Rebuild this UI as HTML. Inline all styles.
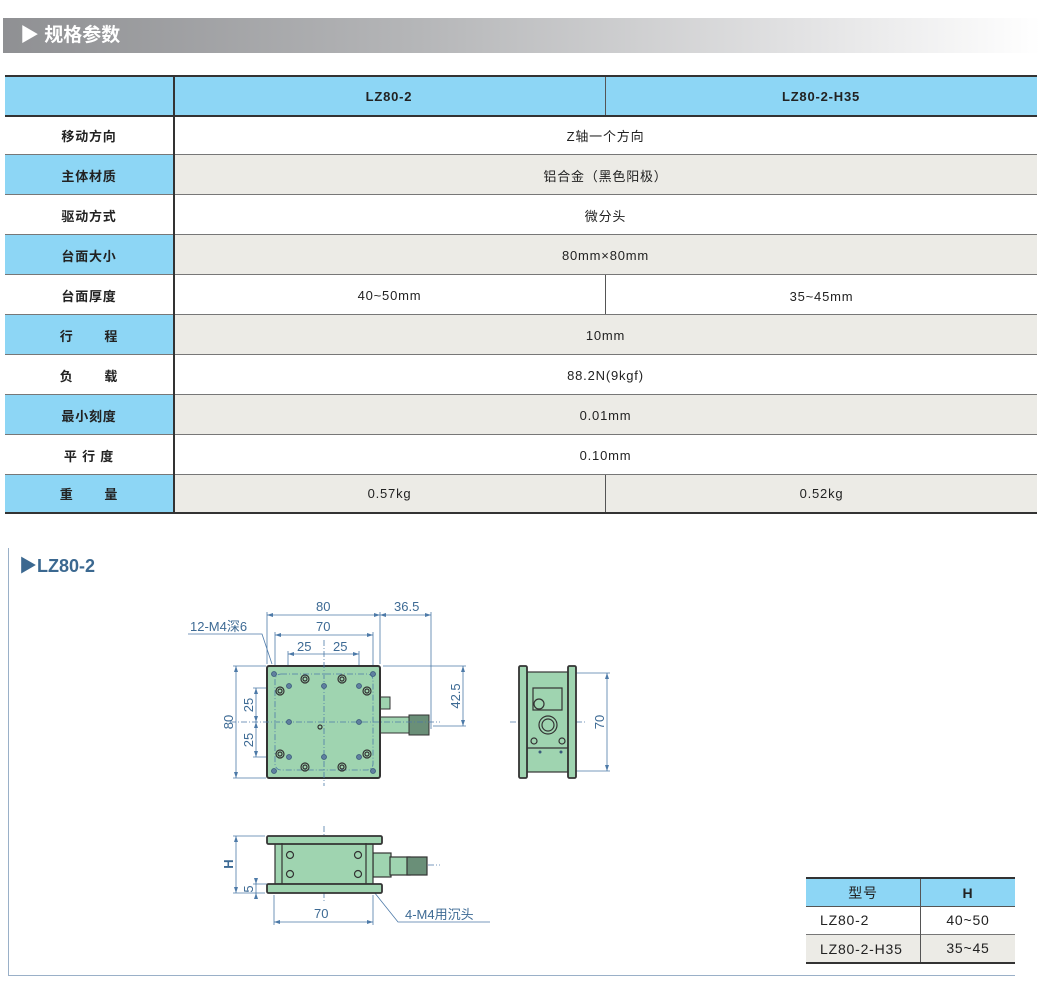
<!DOCTYPE html>
<html><head><meta charset="utf-8"><style>
body{margin:0;width:1041px;height:995px;position:relative;background:#fff;font-family:"Liberation Sans","Noto Sans CJK SC",sans-serif;overflow:hidden}
.a{position:absolute}
.c{position:absolute;display:flex;align-items:center;justify-content:center;font-size:13px;color:#222;letter-spacing:0.8px}
.b{font-weight:bold}
</style></head><body>
<div class="a" style="left:3px;top:18px;width:1038px;height:35px;background:linear-gradient(90deg,#8f9093 0%,#b5b6b8 40%,#e6e6e7 80%,#fff 100%)"></div>
<div class="a b" style="left:20px;top:21px;font-size:19px;color:#fff;line-height:30px">▶ 规格参数</div>

<div class="a" style="left:5px;top:75px;width:1032px;height:2px;background:#333"></div>
<div class="a" style="left:5px;top:77px;width:168px;height:38px;background:#8dd6f5"></div>
<div class="a" style="left:173px;top:77px;width:864px;height:38px;background:#8dd6f5"></div>
<div class="c b" style="left:173px;top:77px;width:432px;height:38px">LZ80-2</div>
<div class="c b" style="left:605px;top:77px;width:432px;height:38px">LZ80-2-H35</div>

<div class="a" style="left:5px;top:154px;width:168px;height:40px;background:#8dd6f5"></div><div class="a" style="left:174px;top:154px;width:863px;height:40px;background:#ecebe6"></div>
<div class="a" style="left:5px;top:234px;width:168px;height:40px;background:#8dd6f5"></div><div class="a" style="left:174px;top:234px;width:863px;height:40px;background:#ecebe6"></div>
<div class="a" style="left:5px;top:314px;width:168px;height:40px;background:#8dd6f5"></div><div class="a" style="left:174px;top:314px;width:863px;height:40px;background:#ecebe6"></div>
<div class="a" style="left:5px;top:394px;width:168px;height:40px;background:#8dd6f5"></div><div class="a" style="left:174px;top:394px;width:863px;height:40px;background:#ecebe6"></div>
<div class="a" style="left:5px;top:474px;width:168px;height:38px;background:#8dd6f5"></div><div class="a" style="left:174px;top:474px;width:863px;height:38px;background:#ecebe6"></div>

<div class="a" style="left:5px;top:115px;width:1032px;height:2px;background:#333"></div>
<div class="a" style="left:5px;top:154px;width:1032px;height:1px;background:#777"></div>
<div class="a" style="left:5px;top:194px;width:1032px;height:1px;background:#777"></div>
<div class="a" style="left:5px;top:234px;width:1032px;height:1px;background:#777"></div>
<div class="a" style="left:5px;top:274px;width:1032px;height:1px;background:#777"></div>
<div class="a" style="left:5px;top:314px;width:1032px;height:1px;background:#777"></div>
<div class="a" style="left:5px;top:354px;width:1032px;height:1px;background:#777"></div>
<div class="a" style="left:5px;top:394px;width:1032px;height:1px;background:#777"></div>
<div class="a" style="left:5px;top:434px;width:1032px;height:1px;background:#777"></div>
<div class="a" style="left:5px;top:474px;width:1032px;height:1px;background:#777"></div>
<div class="a" style="left:5px;top:512px;width:1032px;height:2px;background:#333"></div>
<div class="a" style="left:173px;top:75px;width:2px;height:439px;background:#333"></div>
<div class="a" style="left:605px;top:77px;width:1px;height:38px;background:#555"></div>
<div class="a" style="left:605px;top:275px;width:1px;height:39px;background:#555"></div>
<div class="a" style="left:605px;top:475px;width:1px;height:37px;background:#555"></div>

<div class="c b" style="left:5px;top:115px;width:168px;height:40px">移动方向</div><div class="c" style="left:174px;top:115px;width:863px;height:40px">Z轴一个方向</div>
<div class="c b" style="left:5px;top:155px;width:168px;height:40px">主体材质</div><div class="c" style="left:174px;top:155px;width:863px;height:40px">铝合金（黑色阳极）</div>
<div class="c b" style="left:5px;top:195px;width:168px;height:40px">驱动方式</div><div class="c" style="left:174px;top:195px;width:863px;height:40px">微分头</div>
<div class="c b" style="left:5px;top:235px;width:168px;height:40px">台面大小</div><div class="c" style="left:174px;top:235px;width:863px;height:40px">80mm×80mm</div>
<div class="c b" style="left:5px;top:275px;width:168px;height:40px">台面厚度</div><div class="c" style="left:174px;top:275px;width:431px;height:40px">40~50mm</div><div class="c" style="left:606px;top:276px;width:431px;height:40px">35~45mm</div>
<div class="c b" style="left:5px;top:315px;width:168px;height:40px">行&nbsp;&nbsp;&nbsp;&nbsp;&nbsp;&nbsp;&nbsp;程</div><div class="c" style="left:174px;top:315px;width:863px;height:40px">10mm</div>
<div class="c b" style="left:5px;top:355px;width:168px;height:40px">负&nbsp;&nbsp;&nbsp;&nbsp;&nbsp;&nbsp;&nbsp;载</div><div class="c" style="left:174px;top:355px;width:863px;height:40px">88.2N(9kgf)</div>
<div class="c b" style="left:5px;top:395px;width:168px;height:40px">最小刻度</div><div class="c" style="left:174px;top:395px;width:863px;height:40px">0.01mm</div>
<div class="c b" style="left:5px;top:435px;width:168px;height:40px">平&nbsp;行&nbsp;度</div><div class="c" style="left:174px;top:435px;width:863px;height:40px">0.10mm</div>
<div class="c b" style="left:5px;top:474px;width:168px;height:38px">重&nbsp;&nbsp;&nbsp;&nbsp;&nbsp;&nbsp;&nbsp;量</div><div class="c" style="left:174px;top:474px;width:431px;height:38px">0.57kg</div><div class="c" style="left:606px;top:474px;width:431px;height:38px">0.52kg</div>

<div class="a" style="left:8px;top:548px;width:1px;height:427px;background:#9ab0c8"></div>
<div class="a" style="left:8px;top:975px;width:1007px;height:1px;background:#9ab0c8"></div>
<div class="a b" style="left:19px;top:555px;font-size:18px;color:#3b6890;line-height:22px">▶LZ80-2</div>

<svg class="a" style="left:0;top:0" width="1041" height="995" font-family="Liberation Sans, Noto Sans CJK SC, sans-serif">
<g stroke="#4d7aa8" stroke-width="0.8" fill="none">
<line x1="267" y1="612" x2="267" y2="664"/><line x1="380" y1="612" x2="380" y2="664"/><line x1="431" y1="612" x2="431" y2="729"/>
<line x1="267" y1="615" x2="380" y2="615"/><line x1="380" y1="615" x2="431" y2="615"/>
<line x1="275" y1="635" x2="373" y2="635"/><line x1="275" y1="632" x2="275" y2="672"/><line x1="373" y1="632" x2="373" y2="672"/>
<line x1="288" y1="654" x2="359" y2="654"/><line x1="288" y1="651" x2="288" y2="686"/><line x1="359" y1="651" x2="359" y2="686"/>
<line x1="233" y1="666" x2="266" y2="666"/><line x1="233" y1="778" x2="266" y2="778"/><line x1="236" y1="666" x2="236" y2="778"/>
<line x1="253" y1="688" x2="289" y2="688"/><line x1="253" y1="757" x2="289" y2="757"/><line x1="256" y1="688" x2="256" y2="757"/>
<line x1="383" y1="666" x2="466" y2="666"/><line x1="433" y1="726" x2="466" y2="726"/><line x1="463" y1="666" x2="463" y2="726"/>
<polyline points="188,634 262,634 272,664"/>
<line x1="576" y1="673" x2="610" y2="673"/><line x1="576" y1="771" x2="610" y2="771"/><line x1="607" y1="673" x2="607" y2="771"/>
<line x1="233" y1="836" x2="265" y2="836"/><line x1="233" y1="893" x2="265" y2="893"/><line x1="236" y1="836" x2="236" y2="893"/>
<line x1="253" y1="884" x2="270" y2="884"/><line x1="256" y1="878" x2="256" y2="898"/>
<line x1="274" y1="895" x2="274" y2="925"/><line x1="373" y1="895" x2="373" y2="925"/><line x1="274" y1="922" x2="373" y2="922"/>
<polyline points="374,892 398,922 490,922"/>
</g>
<g fill="#4d7aa8">
<path d="M267 615l6-2v4z M380 615l-6-2v4z M380 615l6-2v4z M431 615l-6-2v4z M275 635l6-2v4z M373 635l-6-2v4z M288 654l6-2v4z M359 654l-6-2v4z M236 666l-2 6h4z M236 778l-2-6h4z M256 688l-2 6h4z M256 722l-2-6h4z M256 722l-2 6h4z M256 757l-2-6h4z M463 666l-2 6h4z M463 726l-2-6h4z M607 673l-2 6h4z M607 771l-2-6h4z M236 836l-2 6h4z M236 893l-2-6h4z M256 884l-2-6h4z M256 893l-2 6h4z M274 922l6-2v4z M373 922l-6-2v4z"/>
</g>
<g fill="#3d6a94" font-size="13">
<text x="316" y="611">80</text><text x="394" y="611">36.5</text><text x="316" y="631">70</text>
<text x="297" y="651">25</text><text x="333" y="651">25</text>
<text x="190" y="631">12-M4深6</text>
<text transform="translate(233,722) rotate(-90)" text-anchor="middle">80</text>
<text transform="translate(253,705) rotate(-90)" text-anchor="middle">25</text>
<text transform="translate(253,740) rotate(-90)" text-anchor="middle">25</text>
<text transform="translate(460,696) rotate(-90)" text-anchor="middle">42.5</text>
<text transform="translate(604,722) rotate(-90)" text-anchor="middle">70</text>
<text transform="translate(233,864) rotate(-90)" text-anchor="middle" font-weight="bold">H</text>
<text transform="translate(253,889) rotate(-90)" text-anchor="middle">5</text>
<text x="314" y="918">70</text><text x="405" y="919">4-M4用沉头</text>
</g>
<g stroke="#333" fill="#9fd4b0">
<rect x="380" y="697" width="10" height="12" stroke-width="1"/>
<rect x="380" y="717" width="30" height="16" stroke-width="1"/>
<rect x="409" y="715" width="20" height="20" fill="#6a8f78" stroke-width="1"/>
<rect x="267" y="666" width="113" height="112" rx="2" stroke-width="2"/>
</g>
<g stroke="#4d7aa8" stroke-width="0.8" fill="none" stroke-dasharray="6,2,1,2">
<rect x="275" y="674" width="98" height="96" rx="6"/>
<line x1="324" y1="640" x2="324" y2="786"/><line x1="230" y1="722" x2="440" y2="722"/>
<line x1="324" y1="826" x2="324" y2="902"/><line x1="373" y1="865" x2="440" y2="865"/>
<line x1="510" y1="722" x2="585" y2="722"/>
</g>
<g fill="#5f7f9f" stroke="#39597a" stroke-width="0.8">
<circle cx="274" cy="674" r="2.5"/><circle cx="373" cy="674" r="2.5"/><circle cx="274" cy="771" r="2.5"/><circle cx="373" cy="771" r="2.5"/>
<circle cx="289" cy="686" r="2.5"/><circle cx="324" cy="686" r="2.5"/><circle cx="359" cy="686" r="2.5"/><circle cx="289" cy="722" r="2.5"/><circle cx="359" cy="722" r="2.5"/><circle cx="289" cy="757" r="2.5"/><circle cx="324" cy="757" r="2.5"/><circle cx="359" cy="757" r="2.5"/>
</g>
<g fill="none" stroke="#333" stroke-width="1.2">
<circle cx="305" cy="679" r="4"/><circle cx="342" cy="679" r="4"/><circle cx="280" cy="691" r="4"/><circle cx="367" cy="691" r="4"/><circle cx="280" cy="754" r="4"/><circle cx="367" cy="754" r="4"/><circle cx="305" cy="767" r="4"/><circle cx="342" cy="767" r="4"/>
<circle cx="305" cy="679" r="2"/><circle cx="342" cy="679" r="2"/><circle cx="280" cy="691" r="2"/><circle cx="367" cy="691" r="2"/><circle cx="280" cy="754" r="2"/><circle cx="367" cy="754" r="2"/><circle cx="305" cy="767" r="2"/><circle cx="342" cy="767" r="2"/>
<circle cx="320" cy="727" r="2"/>
</g>
<g stroke="#333" fill="#9fd4b0" stroke-width="1.2">
<rect x="527" y="672" width="41" height="100"/>
<rect x="519" y="666" width="8" height="112" rx="1.5" stroke-width="1.8"/>
<rect x="568" y="666" width="8" height="112" rx="1.5" stroke-width="1.8"/>
<rect x="533" y="688" width="29" height="22" fill="none"/>
<circle cx="548" cy="725" r="9"/><circle cx="548" cy="725" r="6"/>
<circle cx="539" cy="704" r="5"/><circle cx="534" cy="741" r="3"/><circle cx="562" cy="741" r="3"/>
<line x1="527" y1="748" x2="568" y2="748"/>
</g>
<g fill="#39597a"><circle cx="540" cy="752" r="1.5"/><circle cx="561" cy="752" r="1.5"/></g>
<g stroke="#333" fill="#9fd4b0" stroke-width="1.2">
<rect x="373" y="853" width="18" height="24"/>
<rect x="390" y="857" width="20" height="18"/>
<rect x="407" y="857" width="20" height="18" fill="#6a8f78"/>
<rect x="275" y="843" width="98" height="41"/>
<rect x="267" y="836" width="115" height="8" rx="1.5" stroke-width="1.8"/>
<rect x="267" y="884" width="115" height="9" rx="1.5" stroke-width="1.8"/>
<line x1="282" y1="843" x2="282" y2="884"/><line x1="366" y1="843" x2="366" y2="884"/>
<circle cx="290" cy="855" r="3.5"/><circle cx="290" cy="874" r="3.5"/><circle cx="358" cy="855" r="3.5"/><circle cx="358" cy="874" r="3.5"/>
</g>
</svg>

<div class="a" style="left:806px;top:877px;width:209px;height:2px;background:#333"></div>
<div class="a" style="left:806px;top:879px;width:209px;height:27px;background:#8dd6f5"></div>
<div class="a" style="left:806px;top:934px;width:209px;height:28px;background:#ecebe6"></div>
<div class="a" style="left:806px;top:906px;width:209px;height:1px;background:#555"></div>
<div class="a" style="left:806px;top:934px;width:209px;height:1px;background:#777"></div>
<div class="a" style="left:806px;top:962px;width:209px;height:2px;background:#333"></div>
<div class="a" style="left:920px;top:879px;width:1px;height:83px;background:#555"></div>
<div class="c" style="left:806px;top:879px;width:114px;height:27px;font-size:14px">型号</div>
<div class="c b" style="left:921px;top:879px;width:94px;height:27px;font-size:14px">H</div>
<div class="a" style="left:820px;top:912px;font-size:14px;color:#222;letter-spacing:0.8px">LZ80-2</div>
<div class="c" style="left:921px;top:906px;width:94px;height:28px;font-size:14px">40~50</div>
<div class="a" style="left:820px;top:941px;font-size:14px;color:#222;letter-spacing:0.8px">LZ80-2-H35</div>
<div class="c" style="left:921px;top:934px;width:94px;height:28px;font-size:14px">35~45</div>
</body></html>
